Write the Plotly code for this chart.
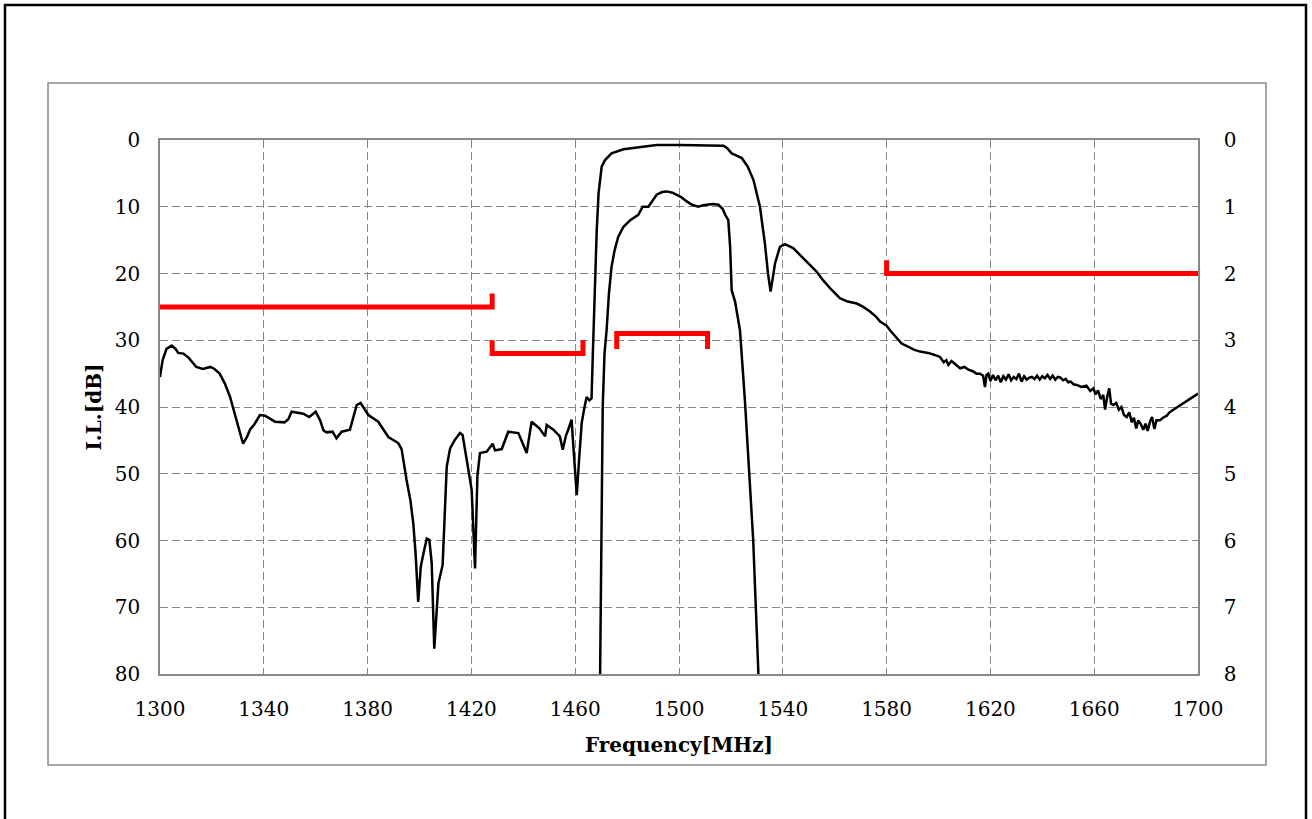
import plotly.graph_objects as go

# ---- wide-band response (left axis, dB) ----
freq_wide = [1300, 1301, 1302.5, 1304.5, 1306, 1307, 1309, 1311, 1314, 1316.6, 1319.3, 1321, 1323, 1325, 1327,
             1329.5, 1331, 1332, 1333.5, 1334.7, 1336.5, 1338.5, 1340.5, 1342.5, 1344.3, 1348, 1349.5, 1350.7,
             1353, 1355.2, 1357.5, 1360, 1361.7, 1363, 1364.2, 1366.5, 1368, 1370, 1373.2, 1374.5, 1375.8,
             1377.3, 1379, 1380.3, 1384.1, 1386, 1388, 1391.8, 1393.1, 1395, 1396.5, 1397.6, 1398.5, 1399.5,
             1400.5, 1401.5, 1402.8, 1403.8, 1404.7, 1405.7, 1407.3, 1408.9, 1410.5, 1411.8, 1413.5, 1415.6,
             1416.6, 1418.2, 1420.1, 1421.4, 1422.3, 1423.3, 1425.9, 1428.2, 1429.1, 1431.7, 1434.2, 1438.1,
             1441.3, 1443.2, 1446.2, 1448.4, 1449, 1451.6, 1454.1, 1455.2, 1456.5, 1457.3, 1458.6, 1459.2,
             1460.6, 1461.5, 1462.5, 1463.5, 1464.4, 1465.5, 1466.3, 1466.8, 1467.2, 1467.8, 1468.3, 1469,
             1470.2, 1471.5, 1474, 1478.6, 1483.7, 1487, 1491.4, 1500.4, 1510, 1517.1, 1518.5, 1520.3, 1522,
             1524.2, 1526.5, 1528.7, 1531.2, 1533.1, 1534.3, 1535.3, 1536, 1537, 1538.9, 1540.8, 1544, 1546.6,
             1550, 1553, 1555.5, 1558.2, 1562, 1565, 1568.5, 1571, 1573.6, 1576, 1577.5, 1580, 1581.3, 1583.5,
             1585.8, 1588, 1590.5, 1592.9, 1596, 1598.5, 1600.6, 1602, 1603, 1603.8, 1605, 1606.5, 1608.3, 1610,
             1611.5, 1613, 1614.7, 1616, 1617.2, 1617.9, 1618.5, 1619.2, 1620, 1621, 1622, 1623, 1624, 1625,
             1626, 1627, 1628, 1629, 1630, 1631, 1632, 1633, 1634, 1635, 1636, 1637, 1638, 1639, 1640, 1641,
             1642, 1643, 1644, 1645, 1646, 1647, 1648, 1649, 1650, 1651, 1652, 1653.3, 1655, 1657, 1658.5,
             1659.7, 1660.5, 1661.5, 1662.5, 1663.5, 1664.2, 1665, 1665.8, 1666.5, 1667.4, 1668.5, 1669.5,
             1670.5, 1671.5, 1672.5, 1673.5, 1674.5, 1675.3, 1676.2, 1677, 1678, 1678.9, 1679.8, 1680.6,
             1681.5, 1682.3, 1683.2, 1684, 1685.3, 1686.5, 1688, 1689, 1690.5, 1692, 1694, 1696, 1698, 1700]
il_wide = [35.5, 33, 31.3, 30.8, 31.3, 31.9, 32, 32.6, 34, 34.3, 34, 34.3, 35, 36.5, 38.5,
           42, 44.5, 45.5, 44.5, 43.4, 42.5, 41.2, 41.3, 41.8, 42.2, 42.3, 41.8, 40.7,
           40.9, 41, 41.5, 40.7, 42, 43.5, 43.8, 43.7, 44.7, 43.7, 43.4, 41.5, 39.7,
           39.4, 40.5, 41.2, 42.2, 43.3, 44.5, 45.4, 46.3, 50.9, 54, 57.4, 62, 69.2,
           63.9, 62, 59.7, 59.9, 63.4, 76.2, 66.4, 63.7, 48.9, 46.2, 45, 43.9,
           44.2, 47.9, 52.4, 64.2, 50.4, 46.9, 46.7, 45.5, 46.5, 46.3, 43.7, 43.9,
           46.9, 42.2, 43.2, 44.4, 42.7, 43.4, 44.4, 46.4, 44.2, 43.4, 41.9, 45.4,
           53.2, 47.9, 42.4, 40.2, 38.5, 39, 38.7, 32, 26, 18, 13.5, 8,
           4, 3, 2, 1.4, 1.1, 0.9, 0.75, 0.75, 0.8, 0.85, 1.2, 2, 2.3,
           2.7, 4, 6, 10, 15.5, 20, 22.7, 21, 18.5, 16, 15.6, 16.2, 17.2,
           18.5, 19.7, 21, 22.2, 23.7, 24.2, 24.5, 25, 25.7, 26.5, 27.2, 27.8, 28.5, 29.5,
           30.5, 30.9, 31.4, 31.7, 31.9, 32.2, 32.5, 33.3, 33.0, 33.7, 33.1, 33.6, 34.2, 34.0,
           34.4, 34.6, 35, 35.0, 35.3, 37, 35.2, 35, 36.1, 35.2, 36.0, 35.3, 36.3, 35.4,
           35.9, 35.1, 36.0, 35.5, 35.8, 35.0, 36.2, 35.4, 35.9, 35.6, 35.5, 35.8, 35.3, 35.9, 35.4, 35.7,
           35.2, 35.8, 35.3, 35.9, 35.5, 35.6, 36.0, 35.8, 36.3, 36.2, 36.6, 36.7, 37.0, 36.8, 37.6,
           37.2, 38.1, 37.5, 38.8, 38.2, 40.4, 38.5, 37.2, 39.5, 39.7, 39.4, 40.4,
           40.0, 41.2, 41.5, 40.8, 42.3, 41.6, 43.2, 42.0, 42.6, 43.4, 42.5, 43.6,
           42.2, 41.5, 43.3, 42.0, 42.0, 41.6, 41.3, 40.8, 40.4, 40.0, 39.5, 39.0, 38.5, 38.0]

# ---- pass-band detail (right axis, dB) ----
freq_pass = [1469.6, 1470, 1470.6, 1471.3, 1472.1, 1473, 1474, 1475.2, 1476.6, 1478.6, 1481.2, 1484.3, 1486,
             1488.2, 1490, 1491.4, 1493.5, 1495.3, 1497.5, 1499.1, 1501, 1503, 1505, 1507.5, 1509, 1510.7,
             1513, 1515.2, 1516.8, 1517.8, 1519, 1519.7, 1520.3, 1521.6, 1523.5, 1525.4, 1527.4, 1528.6, 1530.6]
il_pass = [8, 6, 4.0, 3.2, 2.85, 2.3, 1.9, 1.65, 1.45, 1.3, 1.2, 1.12, 1.0,
           1.0, 0.9, 0.82, 0.78, 0.77, 0.79, 0.82, 0.86, 0.92, 0.97, 1.0, 0.98, 0.97,
           0.96, 0.97, 1.03, 1.12, 1.2, 1.6, 2.25, 2.42, 2.85, 3.9, 5.14, 6.0, 8]

# ---- specification masks (left axis, dB) ----
mask_a_x = [1300, 1428, 1428]
mask_a_y = [25, 25, 23]
mask_b_x = [1428, 1428, 1463, 1463]
mask_b_y = [30, 32, 32, 30]
mask_c_x = [1476, 1476, 1511, 1511]
mask_c_y = [31.3, 29, 29, 31.3]
mask_d_x = [1580, 1580, 1700]
mask_d_y = [18, 20, 20]

x_ticks = [1300, 1340, 1380, 1420, 1460, 1500, 1540, 1580, 1620, 1660, 1700]
y_left_ticks = [0, 10, 20, 30, 40, 50, 60, 70, 80]
y_right_ticks = [0, 1, 2, 3, 4, 5, 6, 7, 8]

FONT = "DejaVu Serif"
fig = go.Figure()

for mx, my in [(mask_a_x, mask_a_y), (mask_b_x, mask_b_y), (mask_c_x, mask_c_y), (mask_d_x, mask_d_y)]:
    fig.add_trace(go.Scatter(x=mx, y=my, mode="lines", line=dict(color="#ff0000", width=5),
                             showlegend=False, hoverinfo="skip"))

fig.add_trace(go.Scatter(x=freq_wide, y=il_wide, mode="lines", line=dict(color="black", width=2.5),
                         showlegend=False))
fig.add_trace(go.Scatter(x=freq_pass, y=il_pass, mode="lines", line=dict(color="black", width=2.5),
                         yaxis="y2", showlegend=False))

W, H = 1312, 819
L, R, T, B = 160, 1198, 140, 674
pw, ph = R - L, B - T


def px(x):
    return (x - L) / pw


def py(y):
    return (B - y) / ph


fig.update_layout(
    width=W, height=H,
    margin=dict(l=L, r=W - R, t=T, b=H - B),
    paper_bgcolor="white", plot_bgcolor="white",
    font=dict(family=FONT, size=20, color="black"),
    xaxis=dict(range=[1300, 1700], tickvals=x_ticks, showgrid=True, gridcolor="#888888",
               griddash="8px,4px", gridwidth=1, showline=True, linecolor="#888888", linewidth=1.5,
               mirror=True, ticks="", zeroline=False, ticklabelstandoff=16,
               title=dict(text="<b>Frequency[MHz]</b>", font=dict(family=FONT, size=20), standoff=18)),
    yaxis=dict(range=[80, 0], tickvals=y_left_ticks, showgrid=True, gridcolor="#888888",
               griddash="8px,4px", gridwidth=1, showline=True, linecolor="#888888", linewidth=1.5,
               ticks="", zeroline=False, ticklabelstandoff=14,
               title=dict(text="<b>I.L.[dB]</b>", font=dict(family=FONT, size=20), standoff=8)),
    yaxis2=dict(range=[8, 0], tickvals=y_right_ticks, overlaying="y", side="right", showgrid=False,
                showline=True, linecolor="#888888", linewidth=1.5, ticks="", zeroline=False,
                ticklabelstandoff=20),
    shapes=[
        dict(type="rect", xref="paper", yref="paper", x0=px(48), x1=px(1266), y0=py(765), y1=py(83),
             line=dict(color="#8a8a8a", width=1.5), layer="below"),
        dict(type="rect", xref="paper", yref="paper", x0=px(5), x1=px(1306), y0=py(830), y1=py(5),
             line=dict(color="black", width=2.5), layer="below"),
    ],
)

fig.write_html("out.html", config={"displayModeBar": False},
               post_script="document.body.style.margin='0';document.body.style.overflow='hidden';")
